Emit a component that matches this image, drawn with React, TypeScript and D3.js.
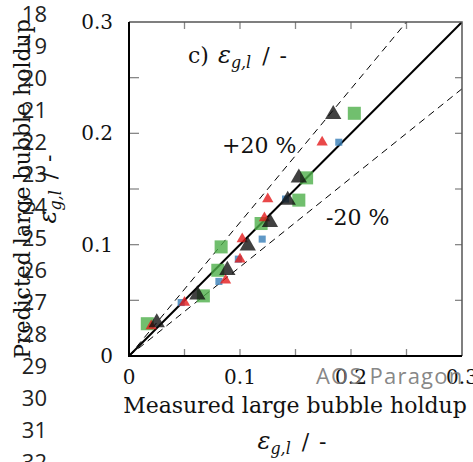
import React from 'react';
import * as d3 from 'd3';

// measured (x) vs predicted (y) large bubble holdup
const greenX = [0.0165, 0.067, 0.080, 0.083, 0.119, 0.153, 0.160, 0.203];
const greenY = [0.029, 0.054, 0.077, 0.098, 0.119, 0.140, 0.160, 0.218];
const blueX = [0.047, 0.081, 0.0985, 0.120, 0.141, 0.189];
const blueY = [0.048, 0.067, 0.087, 0.105, 0.141, 0.192];
const redX = [0.020, 0.050, 0.087, 0.100, 0.102, 0.122, 0.125, 0.174];
const redY = [0.027, 0.048, 0.068, 0.087, 0.105, 0.124, 0.141, 0.192];
const blackX = [0.025, 0.0616, 0.0886, 0.107, 0.127, 0.143, 0.153, 0.184];
const blackY = [0.030, 0.055, 0.077, 0.099, 0.120, 0.140, 0.160, 0.217];

const xTickLabels = ['0', '0.1', '0.2', '0.3'];
const yTickLabels = ['0', '0.1', '0.2', '0.3'];
const minorTicks = [0.05, 0.1, 0.15, 0.2, 0.25];
const lineNumbers = [18, 19, 20, 21, 22, 23, 24, 25, 26, 27, 28, 29, 30, 31, 32];

const W = 473;
const H = 462;
const serif = '"DejaVu Serif", serif';

const App = () => {
  const x = d3.scaleLinear().domain([0, 0.3]).range([129, 462]);
  const y = d3.scaleLinear().domain([0, 0.3]).range([356, 22]);

  const tri = (s: number) => d3.symbol().type(d3.symbolTriangle).size(s)();
  const sq = (s: number) => d3.symbol().type(d3.symbolSquare).size(s)();

  const series = [
    { xs: greenX, ys: greenY, path: sq(170), fill: '#4daf4a' },
    { xs: blueX, ys: blueY, path: sq(50), fill: '#377eb8' },
    { xs: redX, ys: redY, path: tri(55), fill: '#e41a1c' },
    { xs: blackX, ys: blackY, path: tri(115), fill: '#111' },
  ];

  const line = d3.line<[number, number]>().x(d => x(d[0])).y(d => y(d[1]));
  const diag = line([[0, 0], [0.3, 0.3]]);
  const upper = line([[0, 0], [0.25, 0.3]]);
  const lower = line([[0, 0], [0.3, 0.24]]);

  // ε_{g,l} / -
  const epsLabel = (size: number, lead = 0) => (
    <>
      <tspan fontStyle="italic" fontSize={size * 1.1} dx={lead}>ε</tspan>
      <tspan fontStyle="italic" fontSize={size * 0.72} dy={size * 0.22}>g,l</tspan>
      <tspan dy={-size * 0.22} dx={size * 0.5}>/</tspan>
      <tspan dx={size * 0.45}>-</tspan>
    </>
  );

  return (
    <svg width={W} height={H} style={{ position: 'absolute', left: 0, top: 0, background: '#fff' }}>
      <defs>
        <clipPath id="plot">
          <rect x={129} y={22} width={333} height={334} />
        </clipPath>
      </defs>

      {/* ticks (pointing inward) */}
      {minorTicks.map(t => (
        <g key={t} stroke="#888" strokeWidth={1.3}>
          <line x1={x(t)} x2={x(t)} y1={356} y2={349} />
          <line x1={x(t)} x2={x(t)} y1={22} y2={29} />
          <line x1={129} x2={139} y1={y(t)} y2={y(t)} />
          <line x1={462} x2={455} y1={y(t)} y2={y(t)} />
        </g>
      ))}

      {/* reference lines */}
      <g clipPath="url(#plot)" fill="none" stroke="#000">
        <path d={diag ?? ''} strokeWidth={2} />
        <path d={upper ?? ''} strokeWidth={1} strokeDasharray="7,5" />
        <path d={lower ?? ''} strokeWidth={1} strokeDasharray="7,5" />
      </g>

      {/* data points */}
      {series.map((s, i) => (
        <g key={i} fill={s.fill} fillOpacity={0.8}>
          {s.xs.map((v, j) => (
            <path key={j} d={s.path ?? ''} transform={`translate(${x(v)},${y(s.ys[j])})`} />
          ))}
        </g>
      ))}

      {/* frame */}
      <path d="M129,22 H462 V356" fill="none" stroke="#555" strokeWidth={1.5} />
      <path d="M129,22 V356 H462" fill="none" stroke="#000" strokeWidth={2} />

      {/* tick labels */}
      <g fontFamily={serif} fontSize={20} fill="#111">
        {xTickLabels.map(t => (
          <text key={t} x={x(+t)} y={384} textAnchor="middle">{t}</text>
        ))}
        {yTickLabels.map(t => (
          <text key={t} x={113} y={y(+t) + 7} textAnchor="end">{t}</text>
        ))}
      </g>

      {/* annotations */}
      <g fontFamily={serif} fontSize={22} fill="#111">
        <text x={188} y={63}>c){epsLabel(22, 9)}</text>
        <text x={222} y={153}>+20 %</text>
        <text x={326} y={225}>-20 %</text>
      </g>

      {/* axis titles */}
      <g fontFamily={serif} fontSize={22} fill="#111">
        <text x={295} y={413} textAnchor="middle">Measured large bubble holdup</text>
        <text x={292} y={449} textAnchor="middle">{epsLabel(22)}</text>
        <g transform="translate(30,189) rotate(-90)">
          <text x={0} y={0} textAnchor="middle">Predicted large bubble holdup</text>
          <text x={0} y={26} textAnchor="middle">{epsLabel(22)}</text>
        </g>
      </g>

      {/* line numbers and watermark */}
      <g fontFamily='"Open Sans", sans-serif' fontSize={22} fill="#222">
        {lineNumbers.map((n, i) => (
          <text key={n} x={47} y={14 + i * 32 + 8} textAnchor="end">{n}</text>
        ))}
      </g>
      <text x={316} y={384} fontFamily='"Open Sans", sans-serif' fontSize={22} letterSpacing={1.2} fill="#777" fillOpacity={0.9}>
        AOS Paragon
      </text>
    </svg>
  );
};

export default App;
